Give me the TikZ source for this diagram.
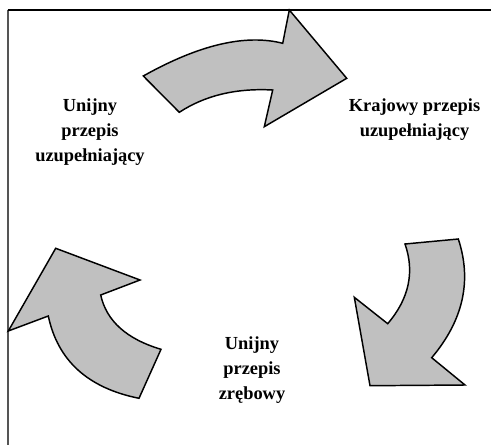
\documentclass[tikz,border=0pt]{standalone}
\usepackage{fontspec}
\setmainfont{Liberation Serif}
\usepackage{xcolor}

\begin{document}
\begin{tikzpicture}[x=0.75pt,y=0.75pt,yscale=-1,xscale=1]
\tikzset{
  bent/.style={draw=black, fill={rgb, 255:red, 192; green, 192; blue, 192}, line width=1.1pt, line join=miter},
  label/.style={align=center, inner sep=0pt, font=\fontsize{13.8}{18.8}\selectfont\bfseries}
}
\useasboundingbox (0,0) rectangle (491,445);

%Frame lines
\draw [color={rgb, 255:red, 85; green, 85; blue, 85}, line width=1.5pt] (7.5,10) -- (7.5,445) ;
\draw [line width=0.8pt] (7.5,10) -- (491,10) ;

%Shape: Curved Arrow top
\draw [bent] (143.3,76) .. controls (199.1,44.7) and (245.6,33.8) .. (282.7,43.3) -- (289.3,10) -- (346.7,78.3) -- (264.3,126.7) -- (272.7,90) .. controls (236.2,88) and (205.1,95.4) .. (179.3,112.3) -- cycle ;
%Shape: Curved Arrow right
\draw [bent] (458.3,239) .. controls (472.1,280.8) and (463.2,320.4) .. (431.7,357.7) -- (465,385) -- (370,385.7) -- (354.3,297.3) -- (387.7,323.7) .. controls (409,298.7) and (414.8,272.1) .. (405,244) -- cycle ;
%Shape: Curved Arrow left
\draw [bent] (139,398.3) .. controls (87.9,388) and (57.7,360.6) .. (48.3,316) -- (8.3,331) -- (55.7,248.3) -- (140,280) -- (100.7,295) .. controls (106.4,320.9) and (126.5,339) .. (161,349.3) -- cycle ;

% Text Node
\node [label] (unia) at (90,132) {Unijny\\przepis\\uzupełniający};
% Text Node
\node [label] (kraj) at (414.5,120) {Krajowy przepis\\uzupełniający};
% Text Node
\node [label] (zreb) at (252,370) {Unijny\\przepis\\zrębowy};
\end{tikzpicture}
\end{document}
